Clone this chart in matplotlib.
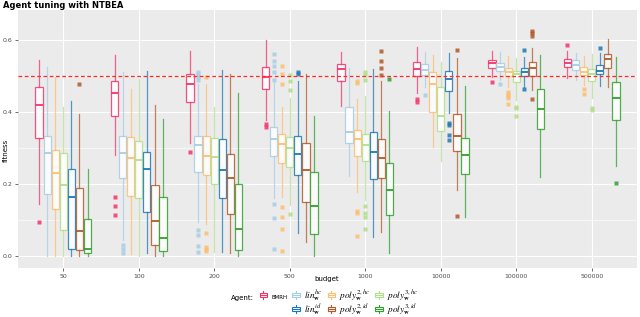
import matplotlib.pyplot as plt
from matplotlib.legend_handler import HandlerBase
from matplotlib.patches import Rectangle
from matplotlib.lines import Line2D

plt.rcParams['mathtext.fontset'] = 'stix'

budgets = ['50', '100', '200', '500', '1000', '10000', '100000', '500000']
agent_labels = ['BMRH',
                r'$lin_{\mathbf{w}}^{hc}$', r'$poly_{\mathbf{w}}^{2,hc}$', r'$poly_{\mathbf{w}}^{3,hc}$',
                r'$lin_{\mathbf{w}}^{id}$', r'$poly_{\mathbf{w}}^{2,id}$', r'$poly_{\mathbf{w}}^{3,id}$']
colors = ['#F5336B', '#A6CEE3', '#FDBF6F', '#B2DF8A', '#1F78B4', '#B15928', '#33A02C']

# rows per budget: (whisker low, q1, median, q3, whisker high)
bmrh = [(0.144, 0.328, 0.419, 0.469, 0.544), (0.281, 0.388, 0.454, 0.485, 0.558),
        (0.313, 0.427, 0.477, 0.506, 0.570), (0.378, 0.463, 0.496, 0.524, 0.600),
        (0.417, 0.486, 0.519, 0.534, 0.566), (0.452, 0.500, 0.519, 0.538, 0.579),
        (0.498, 0.523, 0.535, 0.543, 0.569), (0.494, 0.524, 0.537, 0.546, 0.568)]
bmrh_out = [[0.095], [0.165, 0.140, 0.114], [0.290], [0.367, 0.357], [], [0.436, 0.429], [0.482], [0.586]]

lin_hc = [(0.0, 0.171, 0.287, 0.332, 0.526), (0.046, 0.218, 0.287, 0.332, 0.512),
          (0.095, 0.234, 0.307, 0.334, 0.478), (0.160, 0.278, 0.325, 0.359, 0.480),
          (0.222, 0.315, 0.345, 0.413, 0.521), (0.470, 0.503, 0.517, 0.532, 0.566),
          (0.489, 0.514, 0.526, 0.537, 0.566), (0.489, 0.517, 0.531, 0.543, 0.565)]
lin_hc_out = [[], [0.032, 0.021, 0.009], [0.512, 0.505, 0.497, 0.489, 0.072, 0.058, 0.028, 0.012],
              [0.561, 0.542, 0.528, 0.510, 0.490, 0.144, 0.106, 0.021], [], [0.446], [0.478], []]

poly2_hc = [(0.0, 0.132, 0.231, 0.294, 0.496), (0.007, 0.168, 0.273, 0.330, 0.463),
            (0.089, 0.225, 0.279, 0.332, 0.478), (0.165, 0.259, 0.312, 0.339, 0.413),
            (0.179, 0.278, 0.325, 0.350, 0.436), (0.304, 0.399, 0.478, 0.510, 0.559),
            (0.470, 0.501, 0.512, 0.521, 0.556), (0.475, 0.503, 0.512, 0.526, 0.556)]
poly2_hc_out = [[], [], [0.496, 0.063, 0.026, 0.020, 0.015], [0.528, 0.506, 0.477, 0.137, 0.109, 0.074, 0.014],
                [0.486, 0.480, 0.125, 0.120, 0.057], [], [0.456, 0.450, 0.444, 0.438, 0.421], [0.464, 0.450]]

poly3_hc = [(0.0, 0.072, 0.196, 0.285, 0.413), (0.0, 0.160, 0.267, 0.320, 0.491),
            (0.012, 0.199, 0.274, 0.327, 0.415), (0.142, 0.248, 0.299, 0.330, 0.438),
            (0.156, 0.263, 0.308, 0.339, 0.443), (0.265, 0.347, 0.390, 0.470, 0.540),
            (0.433, 0.482, 0.505, 0.515, 0.551), (0.440, 0.486, 0.506, 0.519, 0.561)]
poly3_hc_out = [[], [], [], [0.503, 0.487, 0.461, 0.117], [0.512, 0.503, 0.489, 0.139, 0.119, 0.109, 0.076],
                [], [0.415, 0.410, 0.388], [0.412, 0.406]]

lin_id = [(0.0, 0.020, 0.165, 0.243, 0.431), (0.009, 0.122, 0.241, 0.288, 0.514),
          (0.012, 0.162, 0.240, 0.324, 0.517), (0.065, 0.224, 0.283, 0.333, 0.487),
          (0.054, 0.213, 0.290, 0.345, 0.519), (0.398, 0.458, 0.491, 0.515, 0.563),
          (0.470, 0.500, 0.510, 0.523, 0.552), (0.472, 0.505, 0.515, 0.530, 0.563)]
lin_id_out = [[], [], [], [0.512, 0.505], [], [0.370, 0.363, 0.336, 0.322], [0.572, 0.463], [0.577]]

poly2_id = [(0.0, 0.018, 0.071, 0.188, 0.394), (0.0, 0.032, 0.097, 0.197, 0.418),
            (0.009, 0.118, 0.216, 0.284, 0.506), (0.040, 0.150, 0.240, 0.313, 0.506),
            (0.067, 0.216, 0.272, 0.325, 0.487), (0.183, 0.292, 0.334, 0.394, 0.549),
            (0.461, 0.500, 0.523, 0.540, 0.577), (0.468, 0.523, 0.546, 0.561, 0.603)]
poly2_id_out = [[0.478], [], [], [], [0.570, 0.542, 0.521, 0.503], [0.571, 0.111], [0.625, 0.619, 0.612, 0.436], []]

poly3_id = [(0.0, 0.009, 0.019, 0.103, 0.241), (0.0, 0.015, 0.049, 0.165, 0.380),
            (0.0, 0.018, 0.074, 0.200, 0.454), (0.0, 0.061, 0.139, 0.234, 0.389),
            (0.010, 0.115, 0.183, 0.259, 0.404), (0.109, 0.227, 0.281, 0.327, 0.472),
            (0.219, 0.354, 0.409, 0.465, 0.558), (0.250, 0.378, 0.440, 0.482, 0.552)]
poly3_id_out = [[], [], [], [], [0.491], [], [], [0.204]]

all_stats = [bmrh, lin_hc, poly2_hc, poly3_hc, lin_id, poly2_id, poly3_id]
all_out = [bmrh_out, lin_hc_out, poly2_hc_out, poly3_hc_out, lin_id_out, poly2_id_out, poly3_id_out]
threshold = 0.5


class BoxHandler(HandlerBase):
    # little boxplot glyph like the ggplot legend key
    def create_artists(self, legend, orig_handle, xdescent, ydescent, width, height, fontsize, trans):
        c = orig_handle.get_color()
        cx = width / 2 - xdescent
        h = height * 1.1
        y0 = -ydescent - (h - height) / 2
        bw = width * 0.8
        whisk = Line2D([cx, cx], [y0, y0 + h], color=c, lw=0.8, transform=trans)
        box = Rectangle((cx - bw / 2, y0 + h * 0.25), bw, h * 0.5, facecolor='white',
                        edgecolor=c, lw=0.8, transform=trans)
        med = Line2D([cx - bw / 2, cx + bw / 2], [y0 + h / 2, y0 + h / 2], color=c, lw=0.8, transform=trans)
        return [whisk, box, med]


fig = plt.figure(figsize=(6.4, 3.17), dpi=100)
ax = fig.add_axes([18 / 640, 1 - 268 / 317, 619 / 640, 258 / 317])
ax.set_facecolor('#EBEBEB')
for s in ax.spines.values():
    s.set_visible(False)

step = 0.107
for k, (stats, outs) in enumerate(zip(all_stats, all_out)):
    c = colors[k]
    bxs = []
    for row, fl in zip(stats, outs):
        bxs.append(dict(whislo=row[0], q1=row[1], med=row[2], q3=row[3], whishi=row[4], fliers=fl))
    pos = [i + 1 + (k - 3) * step for i in range(len(budgets))]
    ax.bxp(bxs, positions=pos, widths=0.096, showcaps=False, patch_artist=True, manage_ticks=False,
           boxprops=dict(facecolor='white', edgecolor=c, lw=0.9, alpha=0.85),
           whiskerprops=dict(color=c, lw=0.9, alpha=0.75),
           medianprops=dict(color=c, lw=1.3),
           flierprops=dict(marker='s', markersize=2.6, markerfacecolor=c, markeredgecolor='none', alpha=0.85),
           zorder=3)

ax.axhline(threshold, color='#FF2A2A', lw=0.9, ls=(0, (3, 2)), zorder=4)

ax.set_xlim(0.4, len(budgets) + 0.6)
ax.set_ylim(-0.033, 0.683)
ax.set_xticks(range(1, len(budgets) + 1))
ax.set_xticklabels(budgets)
ax.set_yticks([0.0, 0.2, 0.4, 0.6])
ax.set_yticklabels(['0.0', '0.2', '0.4', '0.6'])
ax.set_yticks([0.1, 0.3, 0.5], minor=True)
ax.grid(True, which='major', color='white', lw=0.8, zorder=0)
ax.grid(True, which='minor', axis='y', color='white', lw=0.4, zorder=0)
ax.set_axisbelow(True)
ax.tick_params(axis='both', which='major', labelsize=4.5, labelcolor='#4D4D4D', color='#333333',
               length=2, width=0.5, pad=2)
ax.tick_params(axis='y', which='minor', length=0)

fig.text(0.005, 1 - 6 / 317, 'Agent tuning with NTBEA', fontsize=6, fontweight='bold', va='center')
fig.text(6 / 640, 1 - 150 / 317, 'fitness', fontsize=5, rotation=90, va='center', ha='center')
fig.text(327 / 640, 1 - 279 / 317, 'budget', fontsize=5, va='center', ha='center')
fig.text(231 / 640, 1 - 298 / 317, 'Agent:', fontsize=5, va='center', ha='left')

handles = [Line2D([], [], color=c) for c in colors]
blank = Line2D([], [], alpha=0)
order = [0, None, 1, 4, 2, 5, 3, 6]
leg_h = [handles[i] if i is not None else blank for i in order]
leg_l = [agent_labels[i] if i is not None else '' for i in order]
leg = fig.legend(leg_h, leg_l, loc='center left', bbox_to_anchor=(254 / 640, 1 - 302.5 / 317), ncol=4,
                 frameon=False, fontsize=6.7, handlelength=1.0, handleheight=0.8, handletextpad=0.35,
                 columnspacing=0.45, labelspacing=-0.1, borderpad=0,
                 handler_map={h: BoxHandler() for h in handles})
leg.get_texts()[0].set_fontsize(4)

fig.savefig('out.png', dpi=100)
